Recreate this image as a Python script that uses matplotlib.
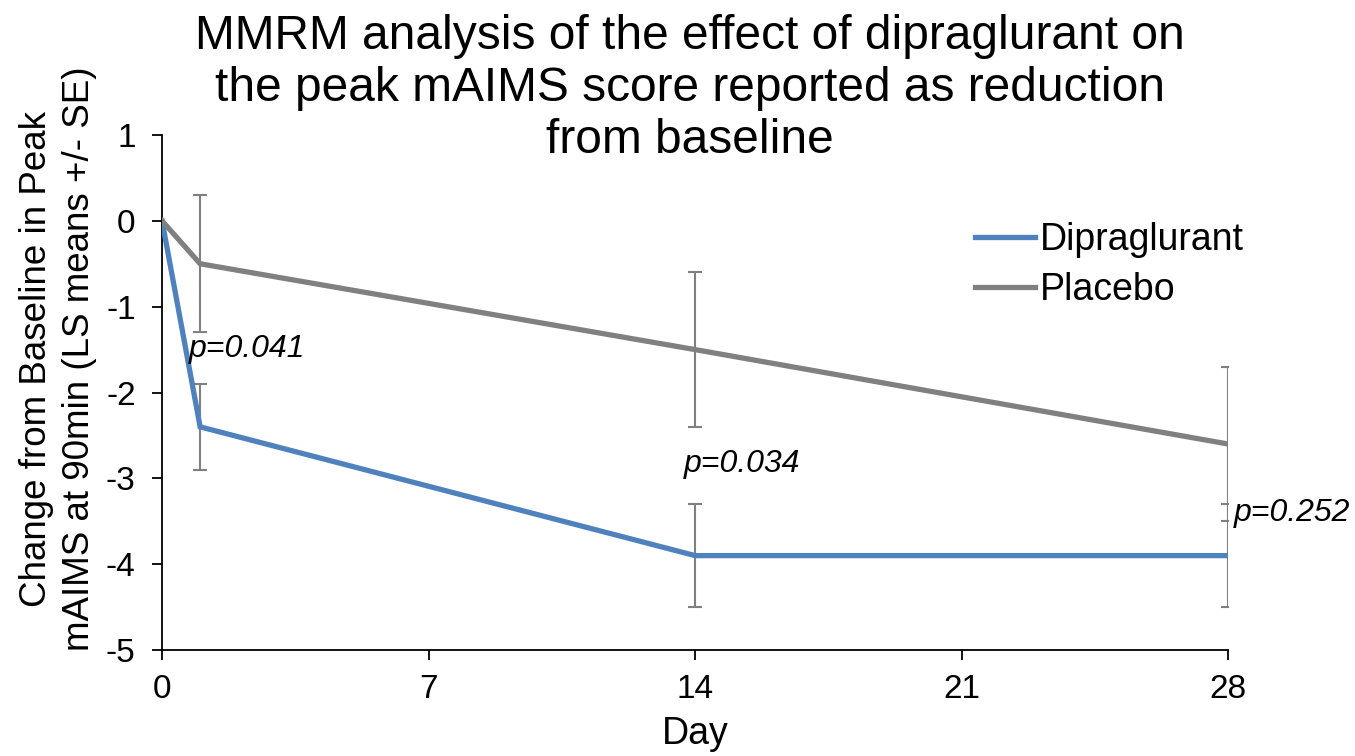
import matplotlib
matplotlib.use("Agg")
import matplotlib.pyplot as plt

plt.rcParams["font.family"] = ["Liberation Sans", "DejaVu Sans"]
plt.rcParams["axes.unicode_minus"] = False

BLUE, GREY = "#4F81BD", "#808080"

days = [0, 1, 14, 28]
dipra = [0, -2.4, -3.9, -3.9]
dipra_se = [0, 0.5, 0.6, 0.6]
placebo = [0, -0.5, -1.5, -2.6]
placebo_se = [0, 0.8, 0.9, 0.9]

p_labels = ["p=0.041", "p=0.034", "p=0.252"]
p_pos = [(0.7, -1.49), (13.7, -2.83), (28.15, -3.4)]

fig = plt.figure(figsize=(13.55, 7.56), dpi=100)
ax = fig.add_axes([0.1196, 0.1402, 0.7868, 0.6812])

err_kw = dict(fmt="none", ecolor=GREY, elinewidth=1.5, capsize=5, capthick=1.5, zorder=2)
ax.errorbar(days[1:], placebo[1:], yerr=placebo_se[1:], **err_kw)
ax.errorbar(days[1:], dipra[1:], yerr=dipra_se[1:], **err_kw)
ax.plot(days, dipra, color=BLUE, lw=3.8, label="Dipraglurant", zorder=3,
        solid_joinstyle="miter")
ax.plot(days, placebo, color=GREY, lw=3.8, label="Placebo", zorder=3,
        solid_joinstyle="miter")

for txt, (x, y) in zip(p_labels, p_pos):
    ax.text(x, y, txt, fontsize=23, style="italic", ha="left", va="center")

ax.set_xlim(0, 28)
ax.set_ylim(-5, 1)
ax.set_xticks([0, 7, 14, 21, 28])
ax.set_yticks(range(-5, 2))
for s in ["top", "right"]:
    ax.spines[s].set_visible(False)
ax.spines["left"].set_linewidth(1.3)
ax.spines["bottom"].set_linewidth(1.3)
ax.tick_params(axis="both", labelsize=24, direction="out", length=7, width=1.3)
ax.tick_params(axis="x", pad=10)
ax.tick_params(axis="y", pad=12)
ax.set_xlabel("Day", fontsize=27, labelpad=8)
ax.set_ylabel("Change from Baseline in Peak\nmAIMS at 90min (LS means +/- SE)",
              fontsize=26.5, linespacing=1.3)
ax.yaxis.set_label_coords(-0.061, 0.565)

ax.legend(loc="upper left", bbox_to_anchor=(0.748, 0.86), frameon=False, fontsize=27,
          handlelength=1.6, handletextpad=0.15, labelspacing=0.38, borderaxespad=0)

fig.text(0.509, 0.982, "MMRM analysis of the effect of dipraglurant on\n"
         "the peak mAIMS score reported as reduction\nfrom baseline",
         ha="center", va="top", fontsize=34.5, linespacing=1.2)

fig.savefig("out.png", dpi=100)
